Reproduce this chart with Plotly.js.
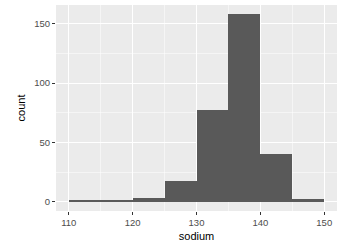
<!DOCTYPE html>
<html><head><meta charset="utf-8">
<script src="https://cdn.plot.ly/plotly-3.0.1.min.js"></script>
<style>html,body{margin:0;padding:0;background:#fff}#c{width:342px;height:243px}</style>
</head><body><div id="c"></div>
<script>
const binStarts = [110, 115, 120, 125, 130, 135, 140, 145];
const counts = [1, 1, 3, 17, 77, 158, 40, 2];
const binWidth = 5;
const xTicks = [110, 120, 130, 140, 150];
const yTicks = [0, 50, 100, 150];

Plotly.newPlot('c', [{
  type: 'bar',
  x: binStarts,
  y: counts,
  width: binStarts.map(() => binWidth),
  offset: 0,
  marker: {color: '#595959', line: {width: 0}},
  hoverinfo: 'none'
}], {
  width: 342, height: 243,
  margin: {l: 56, r: 5, t: 5, b: 32},
  paper_bgcolor: '#ffffff',
  plot_bgcolor: '#EBEBEB',
  showlegend: false,
  bargap: 0,
  font: {family: 'Liberation Sans, Arial, sans-serif'},
  xaxis: {
    range: [108, 152],
    tickvals: xTicks,
    ticktext: xTicks.map(String),
    ticks: 'outside', ticklen: 3, tickwidth: 1, tickcolor: '#333333',
    tickfont: {size: 9.5, color: '#4D4D4D'},
    showgrid: true, gridcolor: '#ffffff', gridwidth: 1.1,
    minor: {dtick: 10, tick0: 115, showgrid: true, gridcolor: '#ffffff', gridwidth: 0.5, ticks: ''},
    zeroline: false, showline: false,
    title: {text: 'sodium', font: {size: 11, color: '#000000'}, standoff: 4}
  },
  yaxis: {
    range: [-7.9, 165.9],
    tickvals: yTicks,
    ticktext: yTicks.map(String),
    ticks: 'outside', ticklen: 3, tickwidth: 1, tickcolor: '#333333',
    tickfont: {size: 9.5, color: '#4D4D4D'},
    showgrid: true, gridcolor: '#ffffff', gridwidth: 1.1,
    minor: {dtick: 50, tick0: 25, showgrid: true, gridcolor: '#ffffff', gridwidth: 0.5, ticks: ''},
    zeroline: false, showline: false,
    title: {text: 'count', font: {size: 11, color: '#000000'}, standoff: 6}
  }
}, {staticPlot: true, displayModeBar: false});
</script></body></html>
